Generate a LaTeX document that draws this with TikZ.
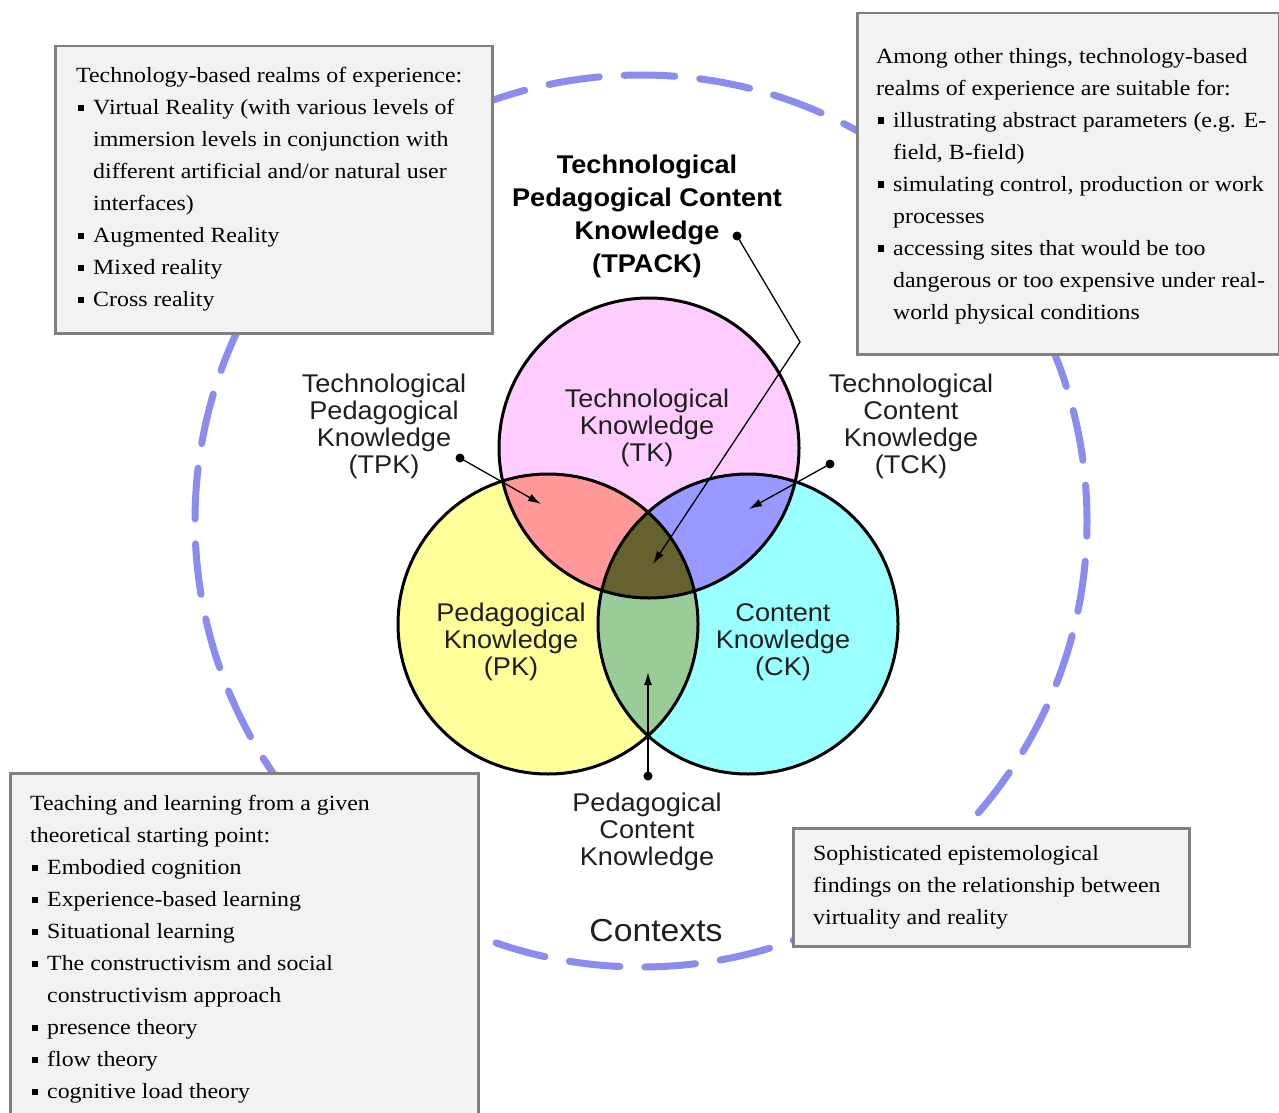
\documentclass[tikz,border=0pt]{standalone}
\usepackage{fontspec}
\setmainfont{Liberation Serif}
\newfontfamily\boxfont{Liberation Serif}[FakeStretch=1.1]
\newfontfamily\labfont{Liberation Sans}[FakeStretch=1.06]
\usetikzlibrary{arrows.meta}
\definecolor{tkc}{HTML}{FFCCFF}
\definecolor{pkc}{HTML}{FFFF99}
\definecolor{ckc}{HTML}{99FFFF}
\definecolor{tpkc}{HTML}{FF9999}
\definecolor{tckc}{HTML}{9999FF}
\definecolor{pckc}{HTML}{99CC99}
\definecolor{tpackc}{HTML}{66622F}
\definecolor{ctxc}{RGB}{140,140,240}
\definecolor{boxfill}{HTML}{F2F2F2}
\definecolor{boxline}{HTML}{808080}
\newcommand\bx{\fontsize{21.7}{32}\selectfont\boxfont}
\newcommand\bl{\makebox[17pt][l]{\hspace{1.5pt}\rule[3.5pt]{6.5pt}{6.5pt}}}
\newcommand\ii{\hspace*{17pt}}
\tikzset{
  infobox/.style={draw=boxline, fill=boxfill, line width=2.5pt},
  txt/.style={align=left, inner sep=0pt, font=\bx, anchor=north west},
  lab/.style={align=center, inner sep=0pt, text=black!88, font=\labfont\fontsize{25.6}{27}\selectfont},
  title/.style={align=center, inner sep=0pt, text=black, font=\labfont\bfseries\fontsize{25.6}{33}\selectfont},
  venn/.style={draw=black, line width=3pt},
  conn/.style={line width=1.3pt, -{Latex[length=13pt,width=8pt]}},
  dotmark/.style={fill=black},
  ctx/.style={draw=ctxc, line width=7pt, line cap=round, dash pattern=on 50.74pt off 25pt, dash phase=35.59pt}
}
\begin{document}
\begin{tikzpicture}[x=1pt,y=-1pt]
\useasboundingbox[fill=white] (0,0) rectangle (1279,1113);
% contexts dashed circle
\draw[ctx] (641,521) circle[radius=446];
% venn centres
\coordinate (cT) at (649,448);
\coordinate (cP) at (548,624);
\coordinate (cC) at (748,624);
\fill[tkc] (cT) circle[radius=150];
\fill[pkc] (cP) circle[radius=150];
\fill[ckc] (cC) circle[radius=150];
\begin{scope}
  \clip (cT) circle[radius=150];
  \fill[tpkc] (cP) circle[radius=150];
  \fill[tckc] (cC) circle[radius=150];
\end{scope}
\begin{scope}
  \clip (cP) circle[radius=150];
  \fill[pckc] (cC) circle[radius=150];
\end{scope}
\begin{scope}
  \clip (cP) circle[radius=150];
  \clip (cC) circle[radius=150];
  \fill[tpackc] (cT) circle[radius=150];
\end{scope}
\draw[venn] (cT) circle[radius=150];
\draw[venn] (cP) circle[radius=150];
\draw[venn] (cC) circle[radius=150];
% labels
\node[title] (tpack) at (647,216) {Technological\\Pedagogical Content\\Knowledge\\(TPACK)};
\node[lab] (tk) at (647,427.5) {Technological\\Knowledge\\(TK)};
\node[lab] (tpk) at (384,426) {Technological\\Pedagogical\\Knowledge\\(TPK)};
\node[lab] (tck) at (911,426) {Technological\\Content\\Knowledge\\(TCK)};
\node[lab] (pk) at (511,642) {Pedagogical\\Knowledge\\(PK)};
\node[lab] (ck) at (783,642) {Content\\Knowledge\\(CK)};
\node[lab] (pck) at (647,832) {Pedagogical\\Content\\Knowledge};
\node[lab, font=\labfont\fontsize{31.8}{34}\selectfont] (ctxlab) at (656,931) {Contexts};
% connectors
\coordinate (dTPACK) at (737,236);
\coordinate (bTPACK) at (800,342);
\coordinate (aTPACK) at (653,564);
\coordinate (dTPK) at (460,458);
\coordinate (aTPK) at (541,504);
\coordinate (dTCK) at (830,464);
\coordinate (aTCK) at (749,509);
\coordinate (dPCK) at (648,776);
\coordinate (aPCK) at (648,672);
\draw[conn] (dTPACK) -- (bTPACK) -- (aTPACK);
\draw[conn] (dTPK) -- (aTPK);
\draw[conn] (dTCK) -- (aTCK);
\draw[conn] (dPCK) -- (aPCK);
\foreach \d in {dTPACK,dTPK,dTCK,dPCK} \fill[dotmark] (\d) circle[radius=4.5];
% boxes
\node[infobox, anchor=north west, minimum width=437pt, minimum height=287pt] (box1) at (54,45) {};
\node[txt] (t1) at (76,60.1) {\strut Technology-based realms of experience:\\
\bl Virtual Reality (with various levels of\\
\ii immersion levels in conjunction with\\
\ii different artificial and/or natural user\\
\ii interfaces)\\
\bl Augmented Reality\\
\bl Mixed reality\\
\bl Cross reality};
\node[infobox, anchor=north west, minimum width=422pt, minimum height=341pt] (box2) at (856,12) {};
\node[txt] (t2) at (876,40.6) {\strut Among other things, technology-based\\
realms of experience are suitable for:\\
\bl illustrating abstract parameters (e.g. E-\\
\ii field, B-field)\\
\bl simulating control, production or work\\
\ii processes\\
\bl accessing sites that would be too\\
\ii dangerous or too expensive under real-\\
\ii world physical conditions};
\node[infobox, anchor=north west, minimum width=468pt, minimum height=360pt] (box3) at (9,772) {};
\node[txt] (t3) at (30,788.3) {\strut Teaching and learning from a given\\
theoretical starting point:\\
\bl Embodied cognition\\
\bl Experience-based learning\\
\bl Situational learning\\
\bl The constructivism and social\\
\ii constructivism approach\\
\bl presence theory\\
\bl flow theory\\
\bl cognitive load theory};
\node[infobox, anchor=north west, minimum width=396pt, minimum height=118pt] (box4) at (792,827) {};
\node[txt] (t4) at (813,837.6) {\strut Sophisticated epistemological\\
findings on the relationship between\\
virtuality and reality};
\end{tikzpicture}
\end{document}
